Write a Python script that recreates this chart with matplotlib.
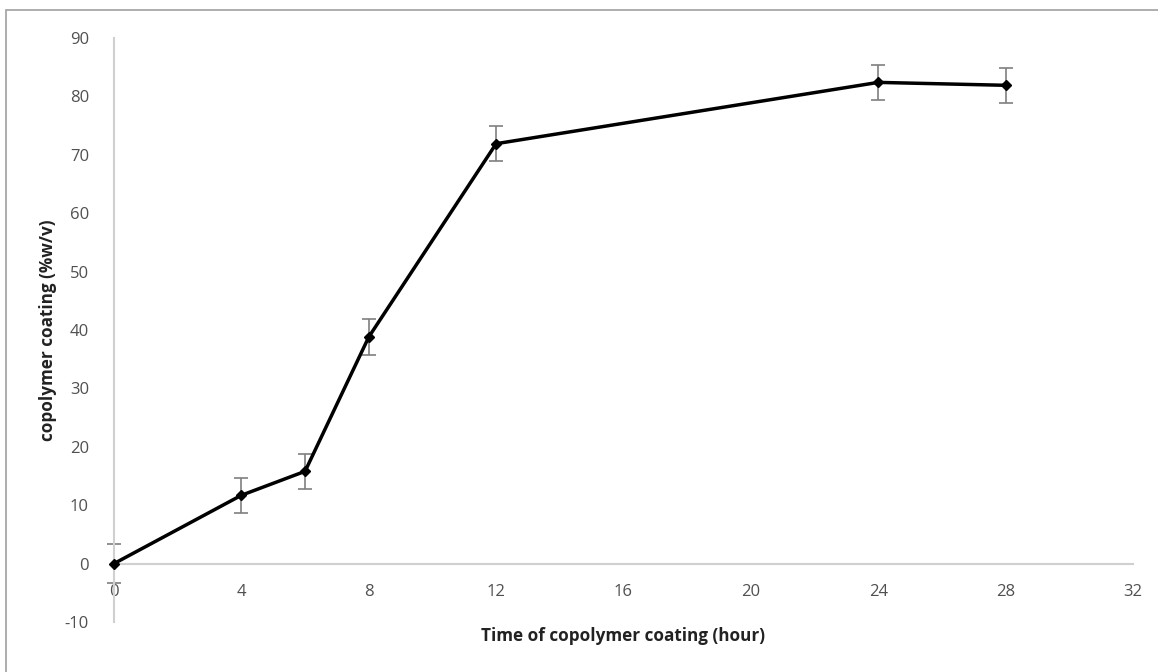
import matplotlib
matplotlib.use("Agg")
import matplotlib.pyplot as plt
from matplotlib.patches import Rectangle

hours = [0, 4, 6, 8, 12, 24, 28]
coating = [0.0, 11.7, 15.8, 38.8, 71.9, 82.4, 81.9]
errors = [3.3, 3.0, 3.0, 3.0, 3.0, 3.0, 3.0]
x_ticks = [0, 4, 8, 12, 16, 20, 24, 28, 32]
y_ticks = [-10, 0, 10, 20, 30, 40, 50, 60, 70, 80, 90]

plt.rcParams['font.family'] = ['Open Sans', 'DejaVu Sans']
plt.rcParams['axes.unicode_minus'] = False

fig = plt.figure(figsize=(11.58, 6.72), dpi=100)
W, H = 1158, 672
ax = fig.add_axes([114 / W, 1 - 622 / H, (1133 - 114) / W, (622 - 38) / H])

eb = ax.errorbar(hours, coating, yerr=errors, fmt='none', ecolor='#7f7f7f',
                 elinewidth=1.2, capsize=5, capthick=1.2, zorder=2)
for art in eb.lines[1] + eb.lines[2]:
    art.set_clip_on(False)
ax.plot(hours, coating, color='black', lw=2.5, marker='D', markersize=5.5,
        zorder=3, clip_on=False)

ax.set_xlim(0, 32)
ax.set_ylim(-10, 90)
ax.set_xticks(x_ticks)
ax.set_yticks(y_ticks)

for s in ['top', 'right']:
    ax.spines[s].set_visible(False)
ax.spines['bottom'].set_position(('data', 0))
ax.spines['bottom'].set_color('#d0d0d0')
ax.spines['left'].set_color('#d0d0d0')
ax.spines['bottom'].set_linewidth(1.5)
ax.spines['left'].set_linewidth(1.5)
ax.tick_params(axis='both', length=0, labelsize=12, colors='#505050')
ax.tick_params(axis='x', pad=15)
ax.tick_params(axis='y', pad=18)

fig.text(623 / W, 1 - 636 / H, 'Time of copolymer coating (hour)',
         ha='center', va='center', fontsize=12.3, fontweight='bold',
         color='#222222')
fig.text(48 / W, 1 - 330 / H, 'copolymer coating (%w/v)', rotation=90,
         ha='center', va='center', fontsize=12.3, fontweight='bold',
         color='#222222')

fig.patches.append(Rectangle((6 / W, -0.05), 1.1, 1 - 10 / H + 0.05,
                             transform=fig.transFigure, fill=False,
                             edgecolor='#a0a0a0', lw=1.2))

fig.savefig('out.png', dpi=100)
